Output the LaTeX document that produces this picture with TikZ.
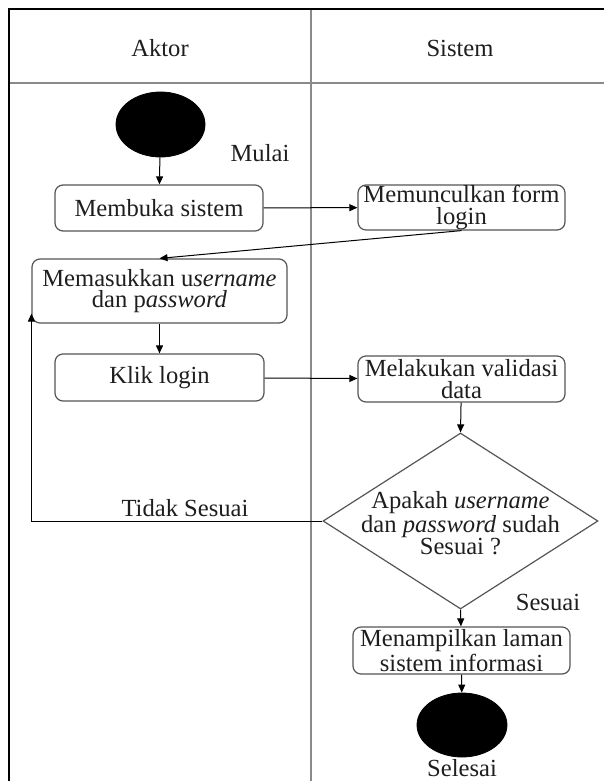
\documentclass[tikz,border=0pt]{standalone}
\usepackage{fontspec}
\setmainfont{Liberation Serif}
\usetikzlibrary{shapes.geometric,arrows.meta}
\definecolor{lanegray}{HTML}{8A8A8A}
\definecolor{boxgray}{HTML}{555555}
\definecolor{inkgray}{HTML}{1E1E1E}
\tikzset{
  lane/.style={draw=lanegray,line width=1pt},
  frameline/.style={draw=black,line width=0.7pt},
  actbox/.style={draw=boxgray,line width=0.6pt,rounded corners=4pt,inner sep=0pt,
    align=center,text=inkgray},
  endpoint/.style={ellipse,fill=black,draw=black,inner sep=0pt},
  decision/.style={diamond,draw=boxgray,line width=0.6pt,inner sep=0pt},
  txt/.style={text=inkgray,inner sep=0pt,align=center},
  flow/.style={draw=black,line width=0.5pt,-{Triangle[length=4pt,width=3.5pt]}}
}
\begin{document}
\begin{tikzpicture}[x=0.5pt,y=-0.5pt,font=\fontsize{12.3}{10.9}\selectfont]
\useasboundingbox (0,0) rectangle (604,781);

% swimlane frame
\draw[lane] (9,83) -- (604,83);
\draw[lane] (311,9) -- (311,781);
\draw[frameline] (604,9) -- (9,9) -- (9,781);
\node[txt] (hAktor) at (160,48) {Aktor};
\node[txt] (hSistem) at (460,48) {Sistem};

% activities
\node[endpoint,minimum width=44.5pt,minimum height=32.5pt] (start) at (160.5,124.5) {};
\node[txt] (lMulai) at (260,153) {Mulai};
\node[actbox,minimum width=104pt,minimum height=23pt] (buka) at (159,208) {Membuka sistem};
\node[actbox,minimum width=103.5pt,minimum height=22.5pt] (form) at (461.5,207.5) {Memunculkan form\\login};
\node[actbox,minimum width=127.5pt,minimum height=32pt] (masuk) at (159.5,291)
  {Memasukkan u\textit{sername}\\dan p\textit{assword}};
\node[actbox,minimum width=104.5pt,minimum height=23.5pt] (klik) at (159.5,377.5) {Klik login};
\node[actbox,minimum width=103.5pt,minimum height=23pt] (valid) at (461.5,379) {Melakukan validasi\\data};
\node[decision,minimum width=137.5pt,minimum height=88pt] (cek) at (460.5,521) {};
\node[txt] (cekText) at (460.5,523) {Apakah \textit{username}\\dan \textit{password} sudah\\Sesuai ?};
\node[actbox,minimum width=108.5pt,minimum height=23.5pt] (tampil) at (461.5,650.5) {Menampilkan laman\\sistem informasi};
\node[endpoint,minimum width=45pt,minimum height=32pt] (stop) at (462,725) {};
\node[txt] (lSelesai) at (462,768.5) {Selesai};
\node[txt] (lTidak) at (185,508) {Tidak Sesuai};
\node[txt] (lSesuai) at (548,602) {Sesuai};

% control flow
\draw[flow] (start) -- (buka);
\draw[flow] (buka) -- (form);
\draw[flow] (form.south) -- (masuk.north);
\draw[flow] (masuk) -- (klik);
\draw[flow] (klik) -- (valid);
\draw[flow] (valid) -- (cek.north);
\coordinate (back) at ([yshift=5pt]masuk.south west);
\draw[flow] (cek.west) -| (back);
\draw[flow] (cek.south) -- (tampil);
\draw[flow] (tampil) -- (stop);
\end{tikzpicture}
\end{document}
